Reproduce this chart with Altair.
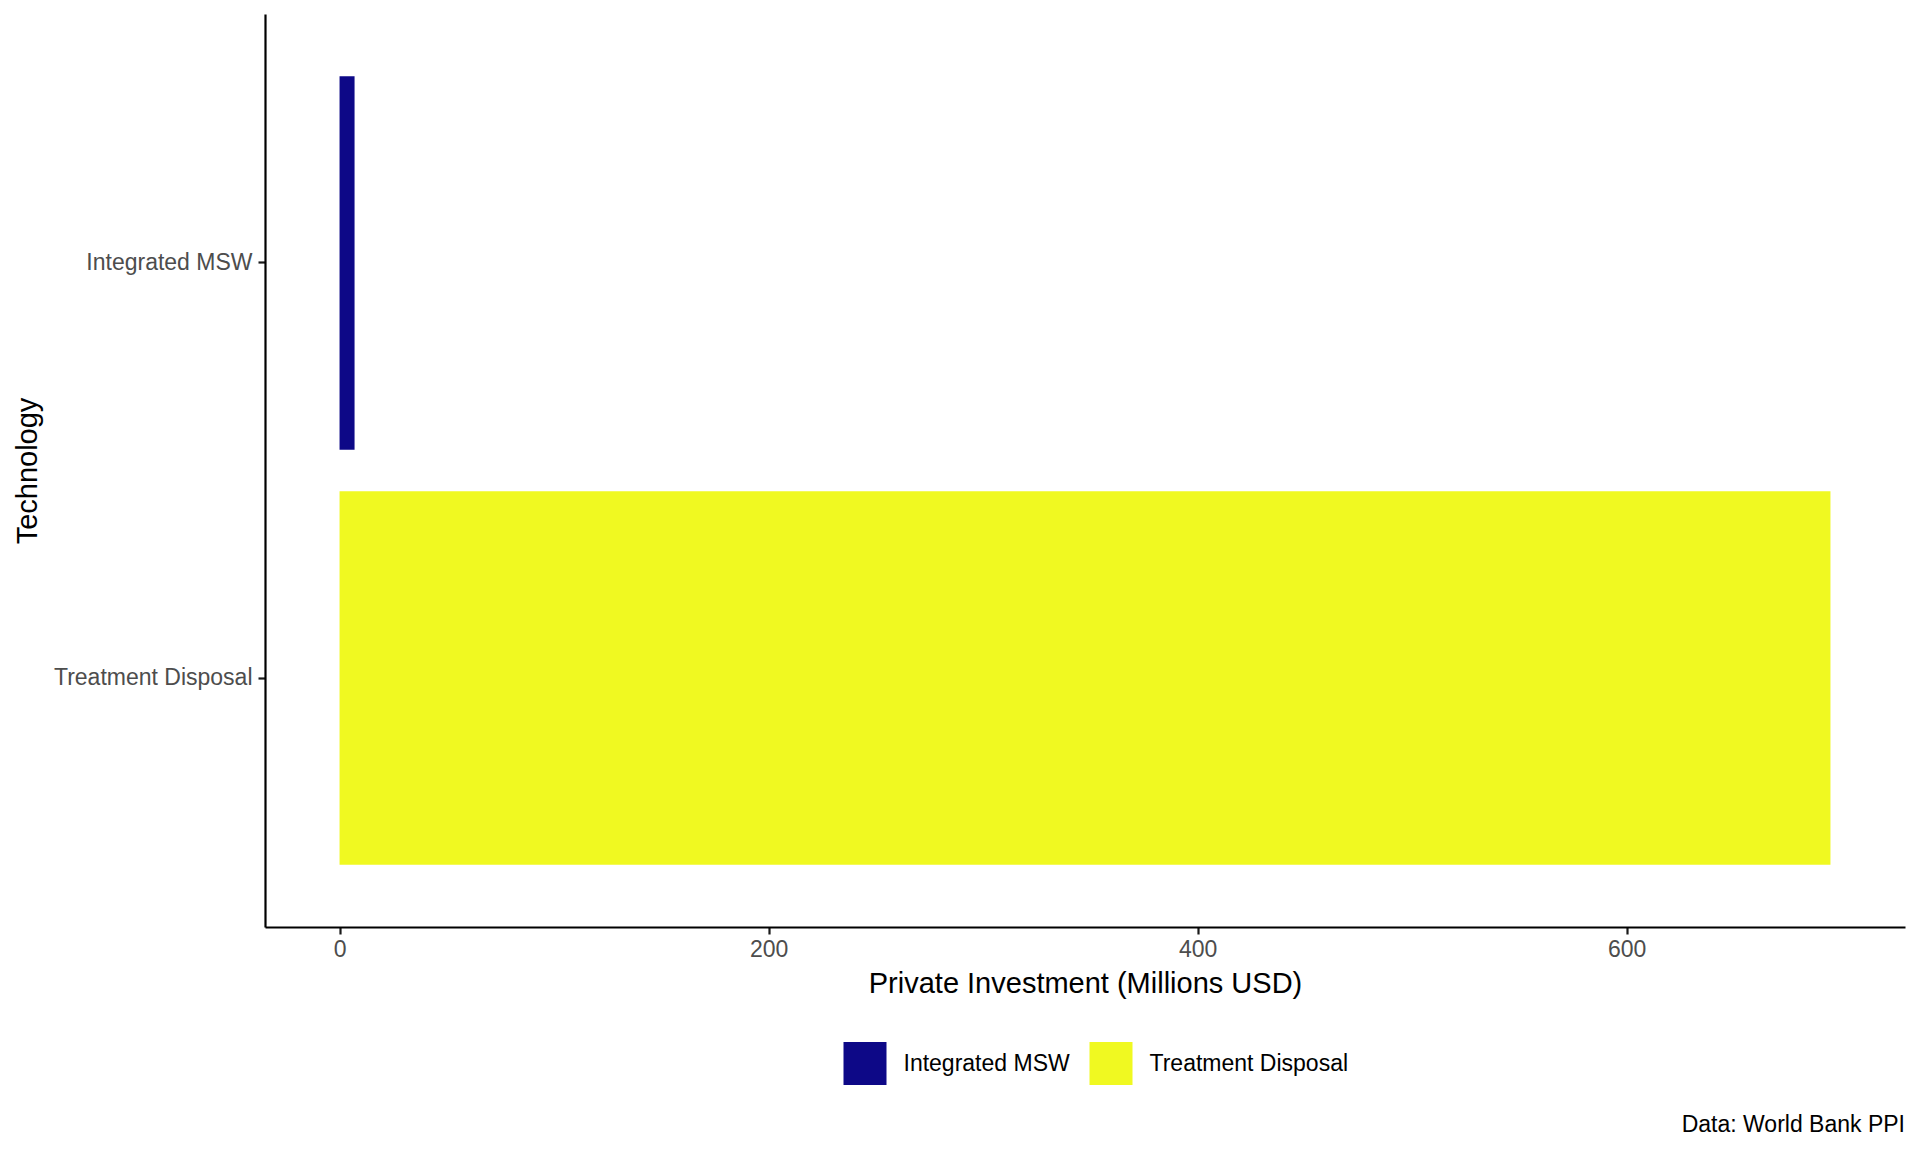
import altair as alt
import pandas as pd

technologies = ["Integrated MSW", "Treatment Disposal"]
investment = [7, 695]
colors = ["#0D0887", "#F0F921"]
caption = ["Data: World Bank PPI"]

df = pd.DataFrame({"Technology": technologies, "Investment": investment})
cap_df = pd.DataFrame({"caption": caption})

FONT = "Liberation Sans"
W, H = 1640, 913

bars = alt.Chart(df).mark_bar().encode(
    x=alt.X(
        "Investment:Q",
        scale=alt.Scale(domain=[-34.75, 729.75], nice=False, zero=False),
        axis=alt.Axis(
            title="Private Investment (Millions USD)",
            values=[0, 200, 400, 600],
            titleX=W / 2,
            titleY=56,
            titleBaseline="middle",
            titleAlign="center",
            labelPadding=4,
        ),
    ),
    y=alt.Y(
        "Technology:N",
        sort=technologies,
        scale=alt.Scale(paddingInner=0.1, paddingOuter=0.15),
        axis=alt.Axis(
            title="Technology",
            titleX=-238,
            titleY=H / 2,
            titleBaseline="middle",
            titleAlign="center",
            titleAngle=270,
            labelPadding=6,
            labelLimit=0,
        ),
    ),
    color=alt.Color(
        "Technology:N",
        scale=alt.Scale(domain=technologies, range=colors),
        legend=alt.Legend(
            title=None,
            orient="none",
            direction="horizontal",
            legendX=578.5,
            legendY=1028,
            symbolType="square",
            symbolSize=1849,
            symbolStrokeWidth=0,
            symbolOpacity=1,
            labelFontSize=23,
            labelFont=FONT,
            labelColor="#000000",
            labelOffset=17,
            labelLimit=0,
            columnPadding=19,
            padding=0,
        ),
    ),
)

cap = alt.Chart(cap_df).mark_text(
    align="right", baseline="middle", fontSize=23, font=FONT, color="#000000"
).encode(
    x=alt.value(W),
    y=alt.value(1111),
    text="caption:N",
)

chart = alt.layer(bars, cap).properties(
    width=W,
    height=H,
    padding={"left": 265, "top": 14, "right": 15, "bottom": 225},
    autosize="none",
    background="white",
).configure_view(stroke=None).configure_axis(
    grid=False,
    domainColor="#000000",
    domainWidth=2.2,
    tickColor="#1A1A1A",
    tickWidth=2.2,
    tickSize=7,
    labelFont=FONT,
    labelFontSize=23,
    labelColor="#4D4D4D",
    titleFont=FONT,
    titleFontSize=29,
    titleFontWeight="normal",
    titleColor="#000000",
)

chart.save("out.html", embed_options={"renderer": "svg", "actions": False})
